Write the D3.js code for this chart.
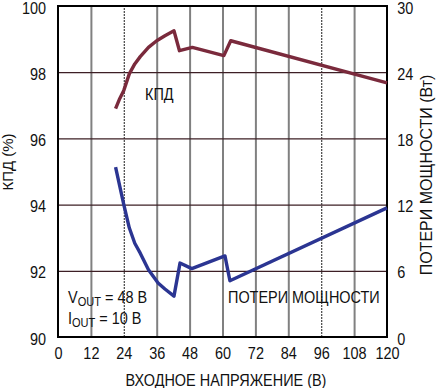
<!DOCTYPE html>
<html lang="ru">
  <head>
    <meta charset="utf-8" />
    <title>КПД</title>
    <script src="https://d3js.org/d3.v7.min.js"></script>
    <style>
      body { margin: 0; background: #fff; }
      svg text { font-family: "Liberation Sans", Arial, sans-serif; fill: #111; }
    </style>
  </head>
  <body>
    <script>
      // Входное напряжение (В) и КПД (%)
      var vinEff = [21, 22.5, 24, 26, 28, 30, 33, 36, 39, 42.3, 44.3, 49, 60.5, 63, 120];
      var eff = [96.9, 97.2, 97.45, 97.95, 98.25, 98.47, 98.75, 98.95, 99.1, 99.25, 98.65, 98.75, 98.5, 98.95, 97.68];

      // Потери мощности (Вт)
      var vinLoss = [21, 24, 26, 28, 30, 33, 36.5, 39, 42.3, 44.5, 48.8, 60.9, 62.7, 120];
      var loss = [15.4, 12.0, 9.9, 8.5, 7.6, 6.1, 4.9, 4.35, 3.7, 6.7, 6.2, 7.35, 5.1, 11.7];

      var xTicks = [0, 12, 24, 36, 48, 60, 72, 84, 96, 108, 120];
      var effTicks = [90, 92, 94, 96, 98, 100];
      var lossTicks = [0, 6, 12, 18, 24, 30];
      var dottedAt = [24, 96];

      var width = 439, height = 388;
      var mLeft = 58, mRight = 387, mTop = 6, mBottom = 337;
      var squeeze = 0.85;

      var svg = d3.select("body").append("svg")
        .attr("width", width)
        .attr("height", height);

      var x = d3.scaleLinear().domain([0, 120]).range([mLeft, mRight]);
      var yEff = d3.scaleLinear().domain([90, 100]).range([mBottom, mTop]);
      var yLoss = d3.scaleLinear().domain([0, 30]).range([mBottom, mTop]);

      // narrow-looking text: scale horizontally around its anchor
      function label(tx, ty, size, str, anchor) {
        return svg.append("text")
          .attr("transform", "translate(" + tx + "," + ty + ") scale(" + squeeze + ",1)")
          .attr("text-anchor", anchor || "start")
          .attr("font-size", size)
          .text(str);
      }

      // vertical grid
      var vgrid = svg.append("g")
        .attr("transform", "translate(0," + mBottom + ")")
        .call(d3.axisBottom(x).tickValues(xTicks.slice(1, -1)).tickSize(-(mBottom - mTop)).tickFormat(""));
      vgrid.select(".domain").remove();
      vgrid.selectAll("line")
        .attr("stroke", function (d) { return dottedAt.indexOf(d) >= 0 ? "#444" : "#808080"; })
        .attr("stroke-width", function (d) { return dottedAt.indexOf(d) >= 0 ? 1.2 : 2; })
        .attr("stroke-dasharray", function (d) { return dottedAt.indexOf(d) >= 0 ? "2,1" : null; });

      // horizontal grid
      var hgrid = svg.append("g")
        .attr("transform", "translate(" + mLeft + ",0)")
        .call(d3.axisLeft(yEff).tickValues(effTicks.slice(1, -1)).tickSize(-(mRight - mLeft)).tickFormat(""));
      hgrid.select(".domain").remove();
      hgrid.selectAll("line").attr("stroke", "#3d1f25").attr("stroke-width", 1.2);

      // frame
      svg.append("rect")
        .attr("x", mLeft).attr("y", mTop)
        .attr("width", mRight - mLeft).attr("height", mBottom - mTop)
        .attr("fill", "none").attr("stroke", "#000").attr("stroke-width", 2);

      // tick labels
      var ax = svg.append("g")
        .attr("transform", "translate(0," + mBottom + ")")
        .call(d3.axisBottom(x).tickValues(xTicks).tickSize(0).tickPadding(10));
      var ayl = svg.append("g")
        .attr("transform", "translate(" + mLeft + ",0)")
        .call(d3.axisLeft(yEff).tickValues(effTicks).tickSize(0).tickPadding(14));
      var ayr = svg.append("g")
        .attr("transform", "translate(" + mRight + ",0)")
        .call(d3.axisRight(yLoss).tickValues(lossTicks).tickSize(0).tickPadding(12));
      [ax, ayl, ayr].forEach(function (g) {
        g.select(".domain").remove();
        g.selectAll("text")
          .attr("font-size", 17).attr("font-family", null).attr("fill", "#111")
          .attr("transform", "scale(" + squeeze + ",1)");
      });
      ayl.selectAll("text").attr("dy", "0.42em");
      ayr.selectAll("text").attr("dy", "0.42em");

      // curves
      var effLine = d3.line()
        .x(function (d, i) { return x(vinEff[i]); })
        .y(function (d) { return yEff(d); });
      svg.append("path")
        .attr("d", effLine(eff))
        .attr("fill", "none").attr("stroke", "#7a2a3c")
        .attr("stroke-width", 3.4).attr("stroke-linejoin", "round");

      var lossLine = d3.line()
        .x(function (d, i) { return x(vinLoss[i]); })
        .y(function (d) { return yLoss(d); });
      svg.append("path")
        .attr("d", lossLine(loss))
        .attr("fill", "none").attr("stroke", "#2b3592")
        .attr("stroke-width", 3.4).attr("stroke-linejoin", "round");

      // annotations
      label(145, 100, 17, "КПД");
      label(228, 303, 17, "ПОТЕРИ МОЩНОСТИ");

      var v = label(68, 303, 17, "");
      v.append("tspan").text("V");
      v.append("tspan").attr("font-size", 13).attr("dy", 3).text("OUT");
      v.append("tspan").attr("dy", -3).text(" = 48 В");
      var iv = label(68, 324, 17, "");
      iv.append("tspan").text("I");
      iv.append("tspan").attr("font-size", 13).attr("dy", 3).text("OUT");
      iv.append("tspan").attr("dy", -3).text(" = 10 В");

      // axis titles
      label(226, 386, 17, "ВХОДНОЕ НАПРЯЖЕНИЕ (В)", "middle");
      svg.append("text")
        .attr("transform", "translate(13,162) rotate(-90)")
        .attr("text-anchor", "middle").attr("font-size", 15)
        .text("КПД (%)");
      svg.append("text")
        .attr("transform", "translate(432,175) rotate(-90)")
        .attr("text-anchor", "middle").attr("font-size", 16)
        .text("ПОТЕРИ МОЩНОСТИ (Вт)");
    </script>
  </body>
</html>
